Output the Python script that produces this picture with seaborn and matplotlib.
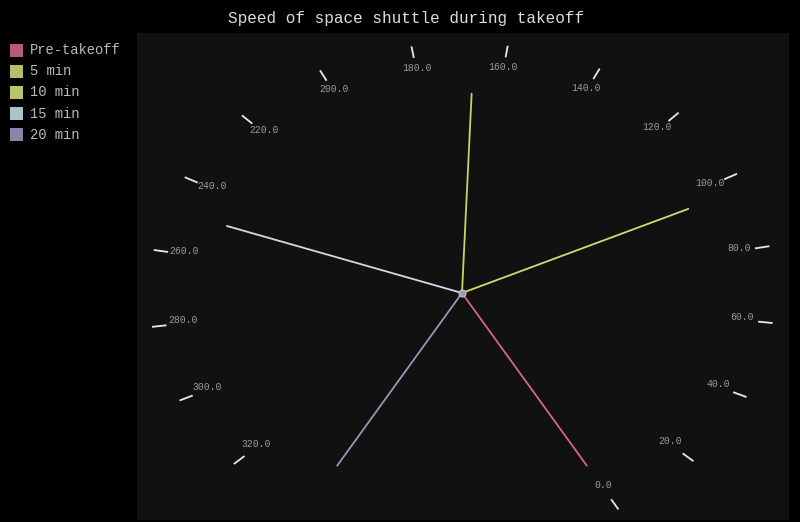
import numpy as np
import pandas as pd
import matplotlib
matplotlib.use("Agg")
import matplotlib.pyplot as plt
from matplotlib.patches import Rectangle
import seaborn as sns

# ---- data ----
series = ["Pre-takeoff", "5 min", "10 min", "15 min", "20 min"]
values = [0, 96, 167, 249, 339]
tick_values = list(range(0, 340, 20))
tick_labels = [f"{v:.1f}" for v in tick_values]
needle_colors = ["#d4668a", "#d4da6e", "#cdd06c", "#ccdcea", "#9a94b6"]
legend_colors = ["#b85a7d", "#b8be6a", "#bcc26a", "#aac4c8", "#8a84a8"]

sns.set_theme(style="dark")
plt.rcParams["font.family"] = ["Liberation Mono", "DejaVu Sans Mono"]

W, H = 800, 522
fig = plt.figure(figsize=(W / 100, H / 100), dpi=100, facecolor="#000000")

# plot area in pixels
px0, px1, py0, py1 = 137, 789, 33, 520
cx, cy, rx, ry = 462, 293, 293, 234
ax = fig.add_axes([px0 / W, 1 - py1 / H, (px1 - px0) / W, (py1 - py0) / H])
ax.set_facecolor("#111111")
ax.set_xlim((px0 - cx) / rx, (px1 - cx) / rx)
ax.set_ylim(-(py1 - cy) / ry, (cy - py0) / ry)
ax.set_xticks([])
ax.set_yticks([])
for s in ax.spines.values():
    s.set_visible(False)
ax.grid(False)

vmin, vmax = min(values), max(values)
start, span = np.deg2rad(-60), np.deg2rad(300)


def ang(v):
    return start + span * (v - vmin) / (vmax - vmin)


# ticks
for v, lab in zip(tick_values, tick_labels):
    a = ang(v)
    ax.plot([np.cos(a) * 1.018, np.cos(a) * 1.068], [np.sin(a) * 1.018, np.sin(a) * 1.068],
            color="#e8e8e8", lw=1.3, solid_capstyle="butt")
    ax.text(np.cos(a) * 0.962, np.sin(a) * 0.962 + 0.013, lab, ha="center", va="center",
            fontsize=7, color="#9a9a9a")

# needles
L = 0.852
rows = []
for name, v in zip(series, values):
    a = ang(v)
    rows.append({"series": name, "x": 0.0, "y": 0.0, "o": 0})
    rows.append({"series": name, "x": L * np.cos(a), "y": L * np.sin(a), "o": 1})
df = pd.DataFrame(rows)
for name, col in zip(series, needle_colors):
    sub = df[df["series"] == name]
    sns.lineplot(data=sub, x="x", y="y", sort=False, estimator=None, ax=ax,
                 color=col, lw=1.3, legend=False)
ax.set_xlabel("")
ax.set_ylabel("")
ax.plot([0], [0], marker="o", ms=5, color="#9c9cb0", mec="#c8c8a0", mew=0.8)

# title
fig.text(406 / W, 1 - 18 / H, "Speed of space shuttle during takeoff", ha="center",
         va="center", fontsize=11.5, color="#dddddd")

# legend
for i, (name, col) in enumerate(zip(series, legend_colors)):
    y = 44 + i * 21
    fig.patches.append(Rectangle((10 / W, 1 - (y + 13) / H), 13 / W, 13 / H,
                                 transform=fig.transFigure, facecolor=col,
                                 edgecolor="none"))
    fig.text(30 / W, 1 - (y + 6.5) / H, name, ha="left", va="center",
             fontsize=9.9, color="#bbbbbb")

fig.savefig("out.png", dpi=100, facecolor="#000000")
